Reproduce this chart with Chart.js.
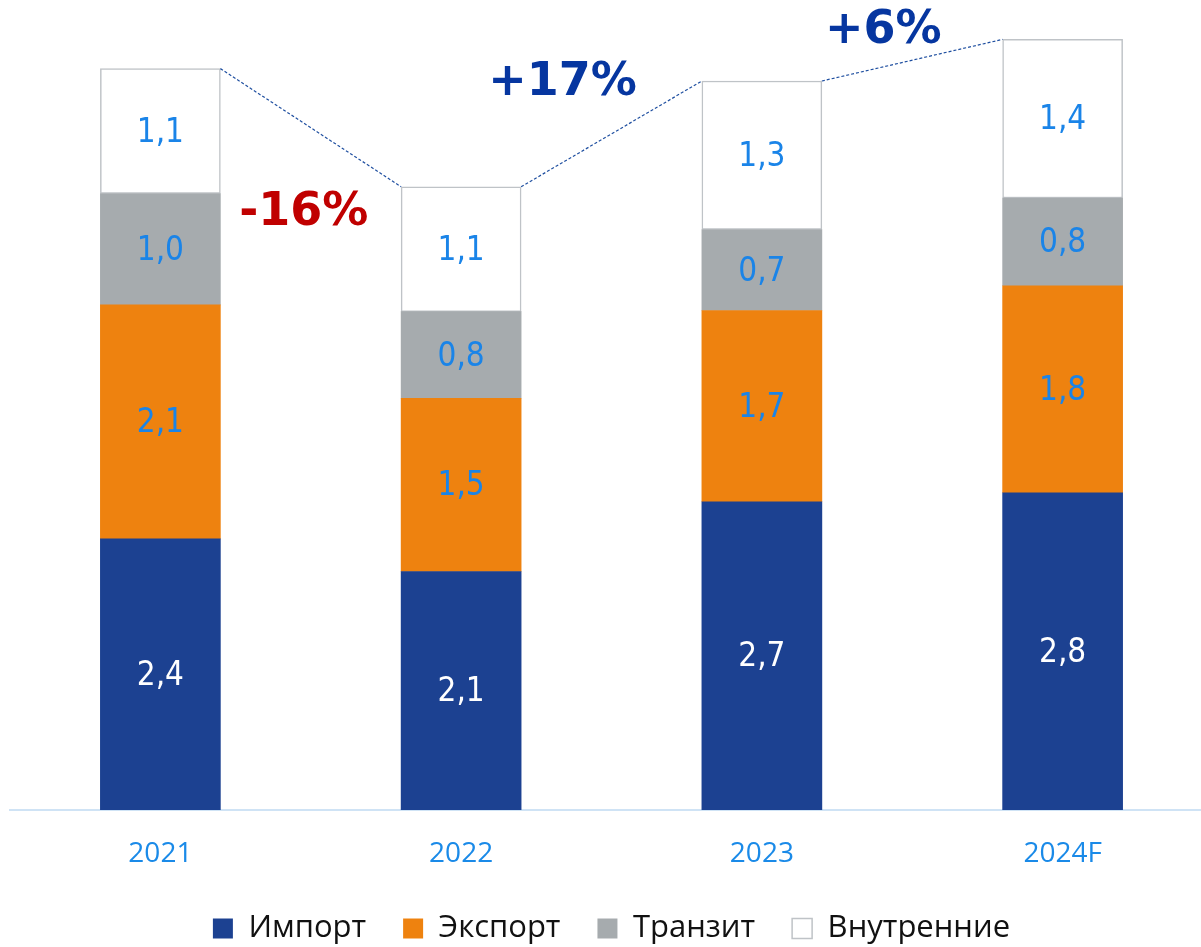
<!DOCTYPE html>
<html>
<head>
<meta charset="utf-8">
<script src="https://cdn.jsdelivr.net/npm/chart.js@4.4.1/dist/chart.umd.min.js"></script>
<style>
    html, body { margin: 0; padding: 0; background: #fff; overflow: hidden; }
    #wrap { position: relative; width: 1213px; height: 954px; }
</style>
</head>
<body>
<div id="wrap"><canvas id="chart"></canvas></div>
<script>
// данные
var years = ["2021", "2022", "2023", "2024F"];
var importValues = [2.41, 2.12, 2.74, 2.82];
var exportValues = [2.08, 1.54, 1.70, 1.84];
var transitValues = [0.99, 0.77, 0.72, 0.78];
var domesticValues = [1.11, 1.11, 1.32, 1.41];
var seriesNames = ["Импорт", "Экспорт", "Транзит", "Внутренние"];
var changeLabels = ["-16%", "+17%", "+6%"];

var labelFont = '33px "DejaVu Sans Condensed", "DejaVu Sans", sans-serif';
var changeFont = 'bold 46px "DejaVu Sans", sans-serif';
var changeColors = ["#c00000", "#0636a0", "#0636a0"];
var changeShift = [[-7, 85], [-49, -51], [-29, -29]];

var valueLabels = {
    id: "valueLabels",
    afterDatasetsDraw: function (chart) {
        var ctx = chart.ctx;
        ctx.save();
        ctx.font = labelFont;
        ctx.textAlign = "center";
        ctx.textBaseline = "middle";
        chart.data.datasets.forEach(function (ds, di) {
            var meta = chart.getDatasetMeta(di);
            meta.data.forEach(function (bar, i) {
                ctx.fillStyle = di === 0 ? "#ffffff" : "#1a84e8";
                var txt = ds.data[i].toFixed(1).replace(".", ",");
                ctx.fillText(txt, bar.x, (bar.y + bar.base) / 2 + 2);
            });
        });

        // пунктир между столбцами и проценты
        var top = chart.getDatasetMeta(chart.data.datasets.length - 1).data;
        for (var i = 0; i < top.length - 1; i++) {
            var a = top[i], b = top[i + 1];
            var x1 = a.x + a.width / 2, y1 = a.y;
            var x2 = b.x - b.width / 2, y2 = b.y;
            ctx.beginPath();
            ctx.setLineDash([3, 2]);
            ctx.strokeStyle = "#1f4fa0";
            ctx.lineWidth = 1.2;
            ctx.moveTo(x1, y1);
            ctx.lineTo(x2, y2);
            ctx.stroke();
            ctx.setLineDash([]);

            ctx.font = changeFont;
            ctx.fillStyle = changeColors[i];
            ctx.fillText(changeLabels[i], (x1 + x2) / 2 + changeShift[i][0], (y1 + y2) / 2 + changeShift[i][1]);
        }
        ctx.restore();
    }
};

new Chart(document.getElementById("chart"), {
    type: "bar",
    data: {
        labels: years,
        datasets: [
            { label: seriesNames[0], data: importValues, backgroundColor: "#1c4191", borderWidth: 0 },
            { label: seriesNames[1], data: exportValues, backgroundColor: "#ee820f", borderWidth: 0 },
            { label: seriesNames[2], data: transitValues, backgroundColor: "#a6abae", borderWidth: 0 },
            { label: seriesNames[3], data: domesticValues, backgroundColor: "#ffffff", borderColor: "#bfc3c7", borderWidth: 1.5, borderSkipped: false }
        ]
    },
    options: {
        responsive: true,
        maintainAspectRatio: false,
        animation: false,
        layout: { padding: { left: 10, right: 0, top: 0, bottom: 0 } },
        datasets: { bar: { barThickness: 120 } },
        scales: {
            x: {
                stacked: true,
                grid: { display: false, drawTicks: false },
                border: { display: true, color: "#cfe3f5", width: 2 },
                ticks: { color: "#1a8ae8", padding: 27, font: { family: "Open Sans", size: 28 } },
                afterFit: function (scale) { scale.height = 66; }
            },
            y: {
                stacked: true,
                display: false,
                min: 0,
                max: 7.2
            }
        },
        plugins: {
            tooltip: { enabled: false },
            legend: {
                position: "bottom",
                labels: {
                    boxWidth: 20,
                    boxHeight: 20,
                    padding: 37,
                    color: "#111111",
                    font: { family: "Open Sans", size: 31 }
                }
            }
        }
    },
    plugins: [valueLabels]
});
</script>
</body>
</html>
